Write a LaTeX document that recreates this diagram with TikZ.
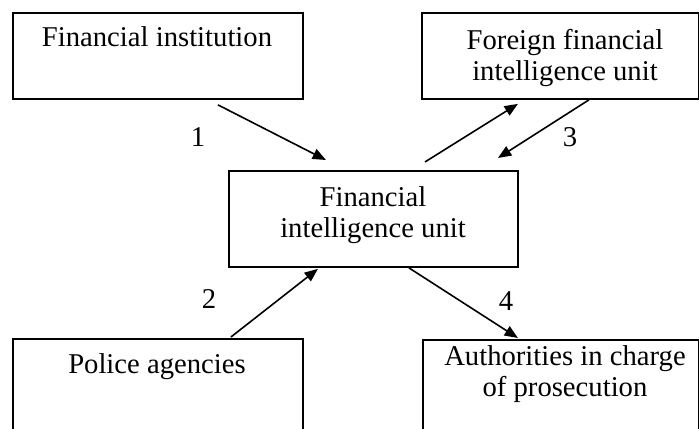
\documentclass[tikz,border=0pt]{standalone}
\usepackage{fontspec}
\setmainfont{Liberation Serif}
\usetikzlibrary{arrows.meta}

\tikzset{every picture/.style={line width=0.75pt}}
\tikzset{
  box/.style={draw, line width=1.4pt, inner sep=0pt, anchor=north west},
  lbl/.style={inner sep=0.75pt, font=\fontsize{21.5}{23}\selectfont, align=center, anchor=base},
  num/.style={inner sep=0.75pt, font=\fontsize{21.5}{23}\selectfont},
  flow/.style={line width=1.2pt, -{Triangle[length=10pt,width=8pt]}},
}

\begin{document}
\begin{tikzpicture}[x=0.75pt,y=0.75pt,yscale=-1,xscale=1]
\useasboundingbox (0,0) rectangle (699,428);
\clip (0,0) rectangle (699,428);

%Shape: Rectangle [id:inst]
\node [box, minimum width=217.5pt, minimum height=64.5pt] (inst) at (12,12) {};
%Shape: Rectangle [id:foreign]
\node [box, minimum width=207.75pt, minimum height=64.5pt] (foreign) at (421,12) {};
%Shape: Rectangle [id:fiu]
\node [box, minimum width=216.75pt, minimum height=72pt] (fiu) at (228,170) {};
%Shape: Rectangle [id:police]
\node [box, minimum width=217.5pt, minimum height=76.5pt] (police) at (12,338) {};
%Shape: Rectangle [id:prosec]
\node [box, minimum width=207pt, minimum height=75.75pt] (prosec) at (422,339) {};

%Straight Lines [id:flow1]
\draw [flow] ([shift={(60,5)}]inst.south) -- ([shift={(-47.5,-10)}]fiu.north);
%Straight Lines [id:flowOut]
\draw [flow] ([shift={(51.5,-8)}]fiu.north) -- ([shift={(-42.5,4)}]foreign.south);
%Straight Lines [id:flow3]
\draw [flow] ([shift={(28.5,0)}]foreign.south) -- ([shift={(124.5,-12)}]fiu.north);
%Straight Lines [id:flow2]
\draw [flow] ([shift={(73,-1)}]police.north) -- ([shift={(-55.5,1)}]fiu.south);
%Straight Lines [id:flow4]
\draw [flow] ([shift={(35.5,0)}]fiu.south) -- ([shift={(-43,-1)}]prosec.north);

% Text Node
\node [lbl] (instText) at (157,47) {Financial institution};
% Text Node
\node [lbl] (foreignText) at (565,80) {Foreign financial\\intelligence unit};
% Text Node
\node [lbl] (fiuText) at (373,237) {Financial\\intelligence unit};
% Text Node
\node [lbl] (policeText) at (157,373) {Police agencies};
% Text Node
\node [lbl] (prosecText) at (565,396) {Authorities in charge\\of prosecution};
% Text Node
\node [num] (n1) at (198,137) {1};
% Text Node
\node [num] (n2) at (209,299) {2};
% Text Node
\node [num] (n3) at (570,137) {3};
% Text Node
\node [num] (n4) at (506,301) {4};

\end{tikzpicture}
\end{document}
